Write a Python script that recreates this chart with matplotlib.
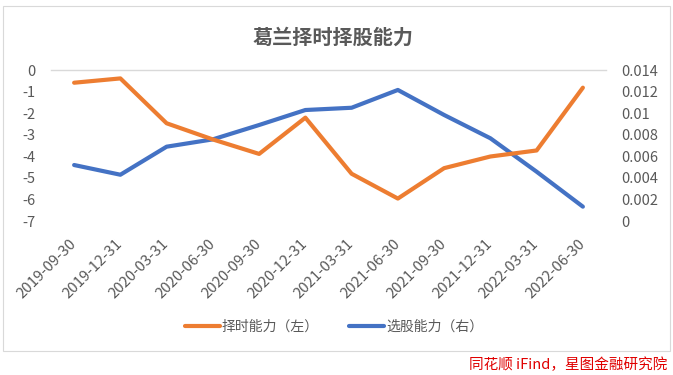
import matplotlib
matplotlib.use("Agg")
import matplotlib.pyplot as plt
from matplotlib.patches import Rectangle

plt.rcParams['font.family'] = ['Noto Sans CJK SC', 'DejaVu Sans']

dates = ["2019-09-30", "2019-12-31", "2020-03-31", "2020-06-30", "2020-09-30",
         "2020-12-31", "2021-03-31", "2021-06-30", "2021-09-30", "2021-12-31",
         "2022-03-31", "2022-06-30"]
timing = [-0.59, -0.39, -2.47, -3.22, -3.89, -2.21, -4.81, -5.96, -4.55, -4.01, -3.73, -0.82]
selection = [0.00519, 0.00429, 0.00689, 0.00757, 0.0089, 0.01029, 0.0105, 0.01215,
             0.00983, 0.00767, 0.00457, 0.00133]
left_ticks = [0, -1, -2, -3, -4, -5, -6, -7]
right_ticks = [0, 0.002, 0.004, 0.006, 0.008, 0.01, 0.012, 0.014]
right_labels = ["0", "0.002", "0.004", "0.006", "0.008", "0.01", "0.012", "0.014"]

ORANGE = "#ED7D31"
BLUE = "#4472C4"
GRAY = "#595959"

fig = plt.figure(figsize=(6.73, 3.75), dpi=100)
fig.patches.append(Rectangle((3 / 673, 1 - 351 / 375), 667 / 673, 345 / 375,
                             transform=fig.transFigure, fill=False,
                             edgecolor="#d9d9d9", linewidth=0.8))

ax = fig.add_axes([51 / 673, 1 - 221 / 375, 555 / 673, 151 / 375])
ax2 = ax.twinx()

x = list(range(len(dates)))
l1, = ax.plot(x, timing, color=ORANGE, linewidth=3, solid_capstyle='round')
l2, = ax2.plot(x, selection, color=BLUE, linewidth=3, solid_capstyle='round')
ax.set_zorder(ax2.get_zorder() + 1)
ax.patch.set_visible(False)

ax.set_xlim(-0.5, len(dates) - 0.5)
ax.set_ylim(-7, 0)
ax2.set_ylim(0, 0.014)
ax.set_yticks(left_ticks)
ax.set_yticklabels([str(v) for v in left_ticks])
ax2.set_yticks(right_ticks)
ax2.set_yticklabels(right_labels)
ax.set_xticks(x)
ax.set_xticklabels(dates, rotation=45, ha='right', va='center', rotation_mode='anchor')

for a in (ax, ax2):
    for s in a.spines.values():
        s.set_visible(False)
    a.tick_params(length=0, colors=GRAY, labelsize=10.5)
ax.spines['top'].set_visible(True)
ax.spines['top'].set_color("#d9d9d9")
ax.spines['top'].set_linewidth(1)
ax.tick_params(axis='y', pad=11)
ax2.tick_params(axis='y', pad=11)
ax.tick_params(axis='x', pad=15, labelsize=10.8)

fig.text(333 / 673, 1 - 37 / 375, "葛兰择时择股能力", ha='center', va='center',
         fontsize=14.5, fontweight='bold', color=GRAY)

fig.legend([l1, l2], ["择时能力（左）", "选股能力（右）"], loc='center',
           bbox_to_anchor=(334 / 673, 1 - 327 / 375), ncol=2, frameon=False,
           fontsize=10, labelcolor=GRAY, handlelength=2.5, handletextpad=0.15,
           columnspacing=2.2)

fig.text(667 / 673, 1 - 365 / 375, "同花顺 iFind，星图金融研究院", ha='right', va='center',
         fontsize=10.5, color="#E00000", style='italic')

fig.savefig("out.png", dpi=100)
